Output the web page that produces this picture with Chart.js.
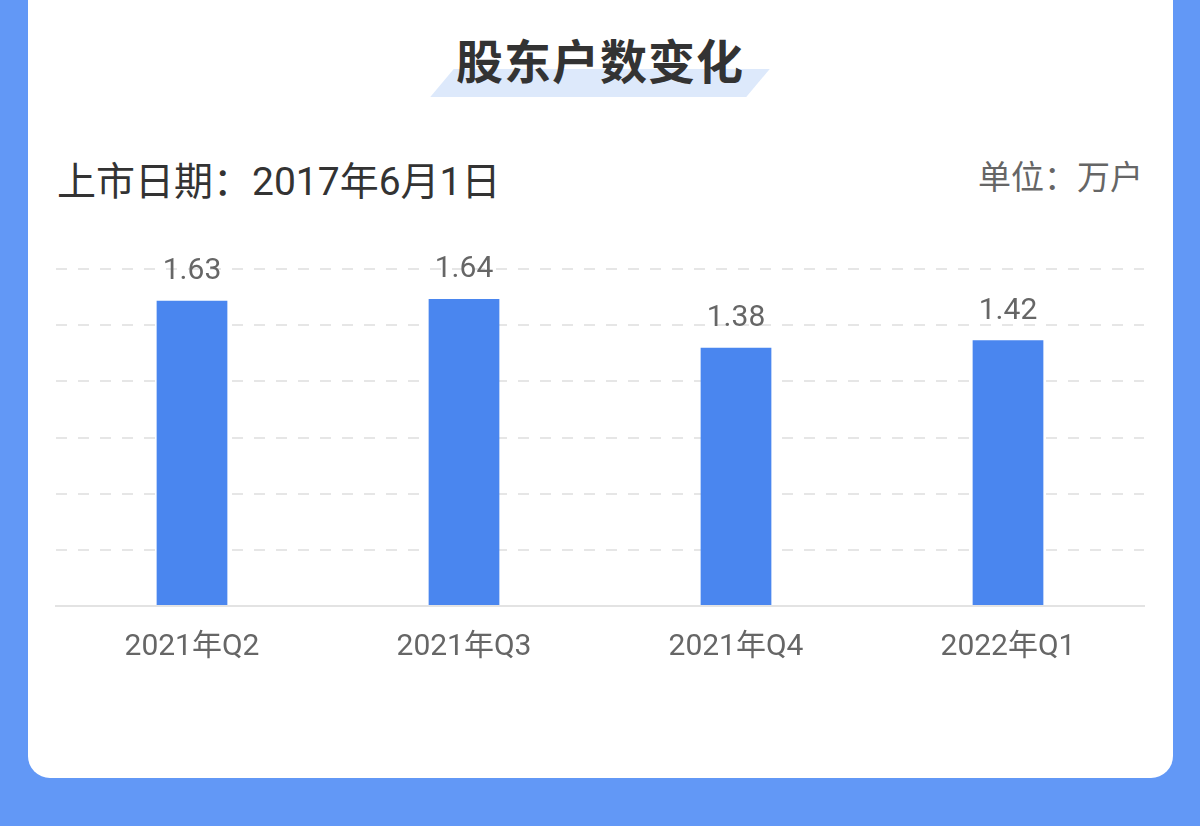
<!DOCTYPE html>
<html>
<head>
<meta charset="utf-8">
<script src="https://cdn.jsdelivr.net/npm/chart.js@4.4.0/dist/chart.umd.min.js"></script>
<style>
  html, body { margin: 0; padding: 0; }
  body {
    width: 1200px; height: 826px; overflow: hidden; position: relative;
    background: #6298f6;
    font-family: Roboto, "Noto Sans CJK SC", sans-serif;
  }
  .card {
    position: absolute; left: 28px; top: -30px; width: 1145px; height: 808px;
    background: #fff; border-radius: 22px;
  }
  .title-bg {
    position: absolute; left: 442px; top: 69px; width: 316px; height: 28px;
    background: #dde9fb; transform: skewX(-40deg);
  }
  .title {
    position: absolute; left: 0; top: 29px; width: 1200px; text-align: center;
    font-family: "Noto Sans CJK SC", sans-serif; font-weight: 700;
    font-size: 47px; line-height: 60px; color: #333; letter-spacing: 1px;
  }
  .sub {
    position: absolute; left: 57px; top: 156px;
    font-size: 39px; line-height: 52px; color: #333;
  }
  .unit {
    position: absolute; right: 57px; top: 155px;
    font-size: 33px; line-height: 46px; color: #666;
  }
  .chart-box {
    position: absolute; left: 0; top: 230px; width: 1200px; height: 460px;
  }
</style>
</head>
<body>
<div class="card"></div>
<div class="title-bg"></div>
<div class="title">股东户数变化</div>
<div class="sub">上市日期：2017年6月1日</div>
<div class="unit">单位：万户</div>
<div class="chart-box"><canvas id="holders-chart"></canvas></div>

<script>
// quarters and shareholder counts (万户)
const quarters = ['2021年Q2', '2021年Q3', '2021年Q4', '2022年Q1'];
const holders = [1.63, 1.64, 1.38, 1.42];
const yMax = 1.8;
const yStep = 0.3;

// value labels above each bar
const valueLabels = {
    id: 'valueLabels',
    afterDatasetsDraw(chart) {
        const ctx = chart.ctx;
        const meta = chart.getDatasetMeta(0);
        ctx.save();
        ctx.font = '30px Roboto, "Noto Sans CJK SC", sans-serif';
        ctx.fillStyle = '#666';
        ctx.textAlign = 'center';
        ctx.textBaseline = 'bottom';
        meta.data.forEach((bar, i) => {
            ctx.fillText(holders[i].toFixed(2), bar.x, bar.y - 14);
        });
        ctx.restore();
    }
};

new Chart(document.getElementById('holders-chart'), {
    type: 'bar',
    data: {
        labels: quarters,
        datasets: [{
            data: holders,
            backgroundColor: '#4a86ef',
            categoryPercentage: 1,
            barPercentage: 0.26
        }]
    },
    options: {
        responsive: true,
        maintainAspectRatio: false,
        animation: false,
        layout: { padding: { left: 56, right: 56, top: 39, bottom: 0 } },
        plugins: {
            legend: { display: false },
            tooltip: { enabled: false }
        },
        scales: {
            x: {
                grid: { display: false },
                border: { display: true, color: '#e3e3e3', width: 2 },
                ticks: {
                    color: '#666',
                    padding: 15,
                    font: { size: 30, family: 'Roboto, "Noto Sans CJK SC", sans-serif' }
                },
                afterFit(scale) { scale.height = 84; }
            },
            y: {
                min: 0,
                max: yMax,
                ticks: { display: false, stepSize: yStep },
                border: { display: false, dash: [11, 11] },
                grid: {
                    drawTicks: false,
                    lineWidth: 2,
                    color: c => c.tick.value === 0 ? 'rgba(0,0,0,0)' : '#e6e6e6'
                },
                afterFit(scale) { scale.width = 0; }
            }
        }
    },
    plugins: [valueLabels]
});
</script>
</body>
</html>
